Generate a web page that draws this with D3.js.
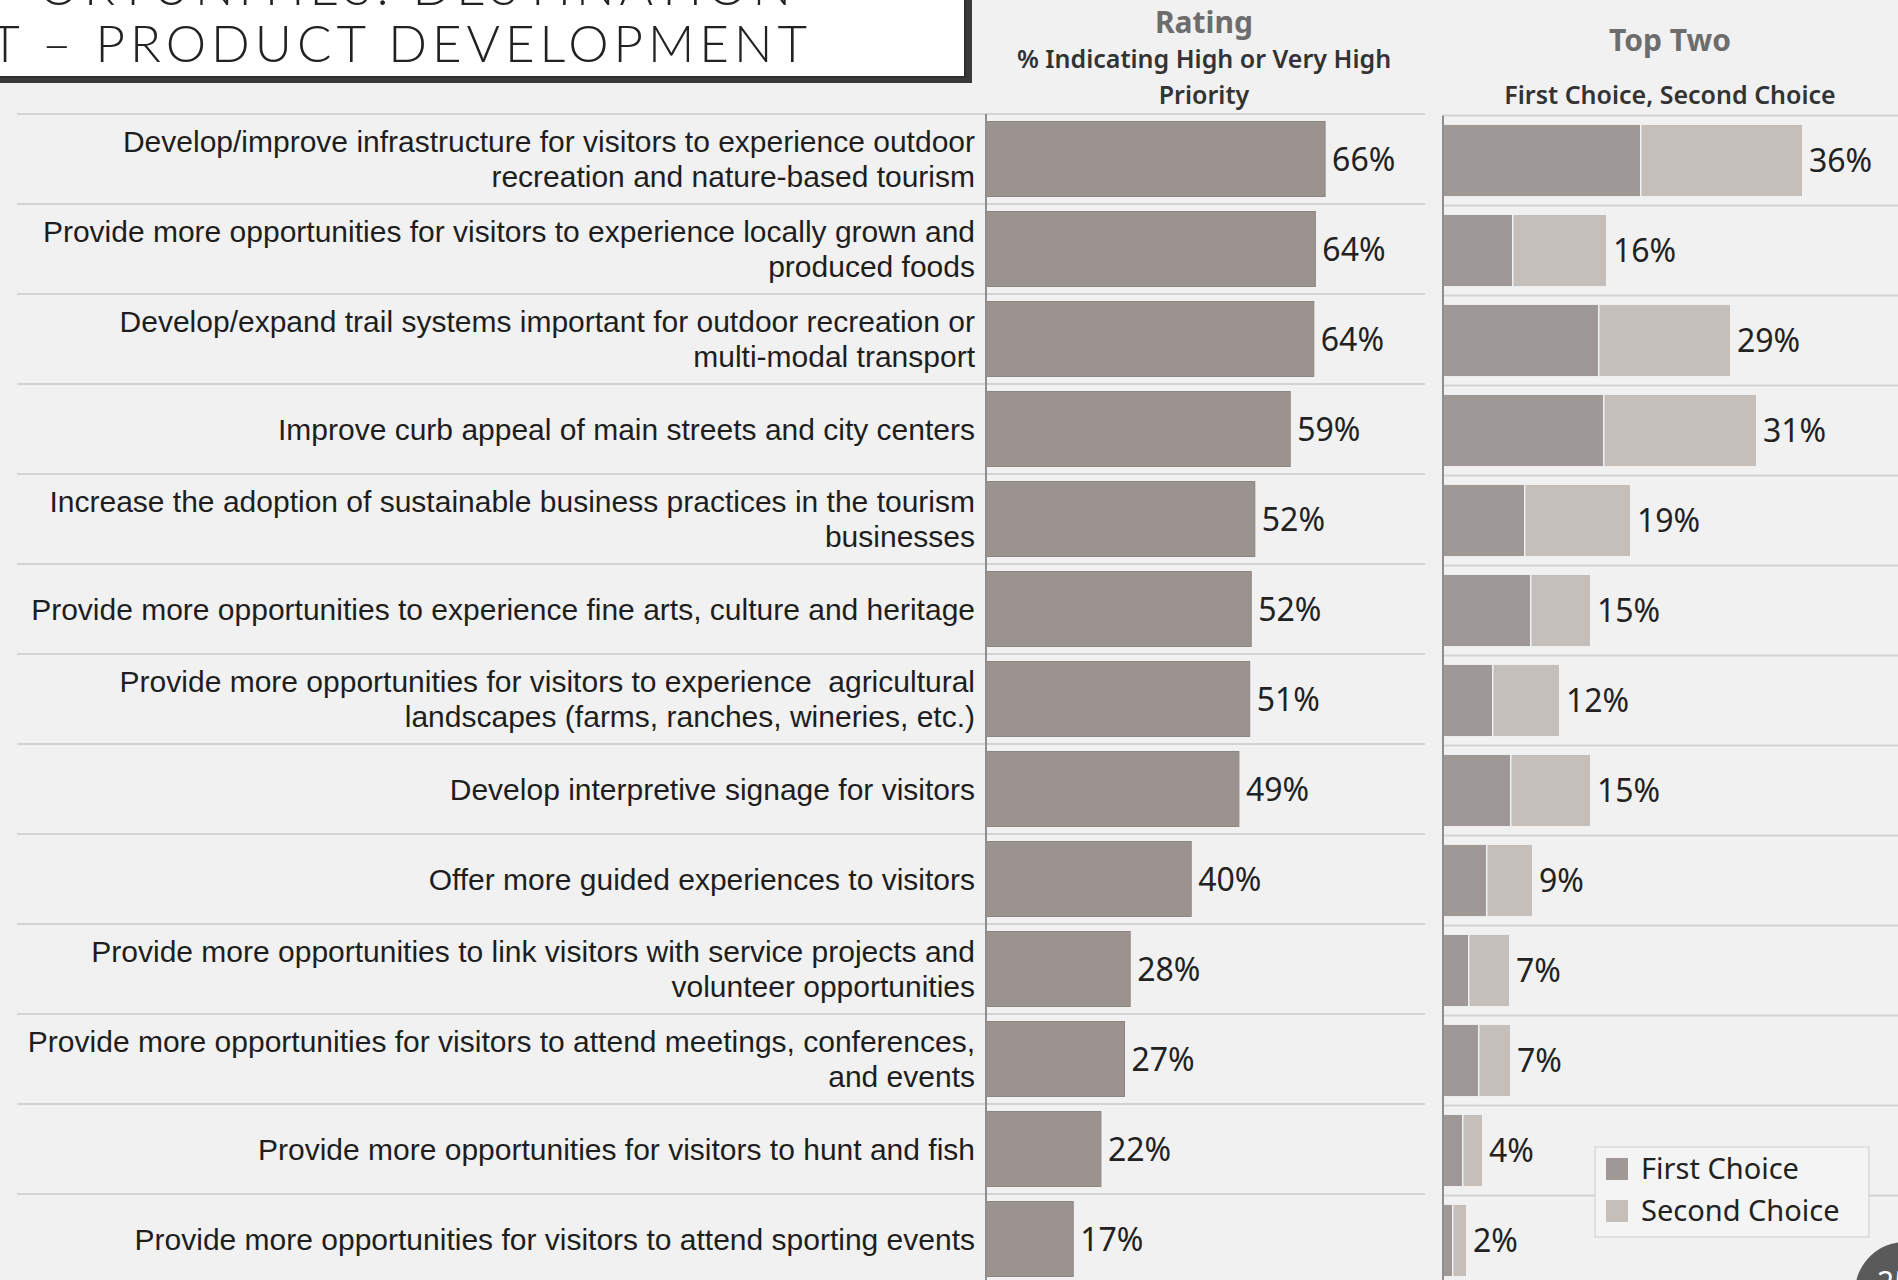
<!DOCTYPE html>
<html><head><meta charset="utf-8">
<script src="https://cdn.jsdelivr.net/npm/d3@7"></script>
<style>html,body{margin:0;padding:0;background:#f1f1f1;overflow:hidden}</style>
</head><body><svg id="c" width="1898" height="1280"></svg>
<script>
// ---------------- data ----------------
const categories = [
  "Develop/improve infrastructure for visitors to experience outdoor\nrecreation and nature-based tourism",
  "Provide more opportunities for visitors to experience locally grown and\nproduced foods",
  "Develop/expand trail systems important for outdoor recreation or\nmulti-modal transport",
  "Improve curb appeal of main streets and city centers",
  "Increase the adoption of sustainable business practices in the tourism\nbusinesses",
  "Provide more opportunities to experience fine arts, culture and heritage",
  "Provide more opportunities for visitors to experience\u00a0 agricultural\nlandscapes (farms, ranches, wineries, etc.)",
  "Develop interpretive signage for visitors",
  "Offer more guided experiences to visitors",
  "Provide more opportunities to link visitors with service projects and\nvolunteer opportunities",
  "Provide more opportunities for visitors to attend meetings, conferences,\nand events",
  "Provide more opportunities for visitors to hunt and fish",
  "Provide more opportunities for visitors to attend sporting events"
];
const ratingValues = [66.1, 64.2, 63.9, 59.3, 52.4, 51.7, 51.4, 49.3, 40.0, 28.1, 27.0, 22.4, 17.0];
const firstChoice  = [19.7, 6.9, 15.5, 16.0, 8.1, 8.7, 4.9, 6.7, 4.3, 2.5, 3.5, 1.9, 0.9];
const secondChoice = [16.2, 9.4, 13.2, 15.3, 10.6, 6.0, 6.7, 8.0, 4.6, 4.1, 3.2, 2.0, 1.4];
const seriesNames  = ["First Choice", "Second Choice"];
const titleLines   = ["ORTUNITIES: DESTINATION", "T \u2013 PRODUCT DEVELOPMENT"];
const ratingHeader = ["Rating", "% Indicating High or Very High", "Priority"];
const topTwoHeader = ["Top Two", "First Choice, Second Choice"];
const pageNumber   = "25";

// ---------------- layout ----------------
const W = 1898, H = 1280;
const BG = "#f1f1f1";
const C_RATING = "#9a9390", C_FIRST = "#9e9996", C_SECOND = "#c4bfbb";
const n = categories.length;
const ids = d3.range(n);
const svg = d3.select("#c");
svg.append("rect").attr("width", W).attr("height", H).attr("fill", BG);

const rowTop = 114, rowH = 90;
const yRow = d3.scaleBand().domain(ids).range([rowTop, rowTop + rowH * n]);
const yRating = yRow.copy().paddingInner(0.167).paddingOuter(0.0835);
const yTopRow = d3.scaleBand().domain(ids).range([rowTop + 1.5, rowTop + 1.5 + rowH * n]);
const yTop = yTopRow.copy().paddingInner(0.21).paddingOuter(0.105);
const xRating = d3.scaleLinear().domain([0, 100]).range([986, 986 + 513]);
const xTop = d3.scaleLinear().domain([0, 100]).range([1443, 1443 + 1000]);
const fmtPct = v => d3.format(".0f")(v) + "%";

// ---------------- title box ----------------
const tg = svg.append("g");
tg.append("rect").attr("x", -20).attr("y", -20).attr("width", 20 + 972).attr("height", 20 + 83).attr("fill", "#3a3a3a");
tg.append("rect").attr("x", -20).attr("y", -20).attr("width", 20 + 965).attr("height", 20 + 77).attr("fill", "#ffffff")
  .attr("stroke", "#2e2e2e").attr("stroke-width", 2);
tg.selectAll("text.title").data(titleLines).join("text").attr("class", "title")
  .attr("x", (d, i) => i === 0 ? 796 : 812)
  .attr("y", (d, i) => i === 0 ? 5 : 62)
  .attr("text-anchor", "end")
  .attr("font-family", "Lato, 'Open Sans', sans-serif")
  .attr("font-weight", 300)
  .attr("font-size", 51).attr("letter-spacing", 5).attr("fill", "#222")
  .text(d => d);

// ---------------- headers ----------------
const hFont = "'Noto Sans', 'Open Sans', sans-serif";
svg.append("text").attr("x", 1204).attr("y", 33).attr("text-anchor", "middle")
  .attr("font-family", hFont).attr("font-weight", 700).attr("font-size", 30).attr("fill", "#6d6d6d").text(ratingHeader[0]);
svg.append("text").attr("x", 1204).attr("y", 68).attr("text-anchor", "middle")
  .attr("font-family", hFont).attr("font-weight", 600).attr("font-size", 25).attr("fill", "#333").text(ratingHeader[1]);
svg.append("text").attr("x", 1204).attr("y", 104).attr("text-anchor", "middle")
  .attr("font-family", hFont).attr("font-weight", 600).attr("font-size", 25).attr("fill", "#333").text(ratingHeader[2]);
svg.append("text").attr("x", 1670).attr("y", 51).attr("text-anchor", "middle")
  .attr("font-family", hFont).attr("font-weight", 700).attr("font-size", 30).attr("fill", "#6d6d6d").text(topTwoHeader[0]);
svg.append("text").attr("x", 1670).attr("y", 104).attr("text-anchor", "middle")
  .attr("font-family", hFont).attr("font-weight", 600).attr("font-size", 25).attr("fill", "#333").text(topTwoHeader[1]);

// ---------------- row separators ----------------
svg.append("g").selectAll("line").data(ids).join("line")
  .attr("x1", 17).attr("x2", 1425)
  .attr("y1", d => yRow(d)).attr("y2", d => yRow(d))
  .attr("stroke", "#d3d3d3").attr("stroke-width", 2);
svg.append("g").selectAll("line").data(ids).join("line")
  .attr("x1", xTop(0)).attr("x2", W)
  .attr("y1", d => yTopRow(d)).attr("y2", d => yTopRow(d))
  .attr("stroke", "#d3d3d3").attr("stroke-width", 2);

// ---------------- category labels ----------------
const lab = svg.append("g").attr("font-family", "'Liberation Sans', Arial, sans-serif")
  .attr("font-size", 30).attr("fill", "#1e1e1e").attr("text-anchor", "end");
ids.forEach(i => {
  const lines = categories[i].split("\n");
  const cy = yRow(i) + yRow.bandwidth() / 2;
  const t = lab.append("text").attr("xml:space", "preserve");
  lines.forEach((ln, k) => {
    t.append("tspan").attr("x", 975)
      .attr("y", cy + (k - (lines.length - 1) / 2) * 35)
      .attr("dy", "0.35em").text(ln);
  });
});

// ---------------- rating bars ----------------
const vFont = "'Noto Sans', 'Open Sans', sans-serif";
svg.append("g").selectAll("rect").data(ids).join("rect")
  .attr("x", xRating(0)).attr("y", d => yRating(d))
  .attr("width", d => xRating(ratingValues[d]) - xRating(0))
  .attr("height", yRating.bandwidth())
  .attr("fill", C_RATING).attr("stroke", "#8c8683").attr("stroke-width", 1);
svg.append("g").selectAll("text").data(ids).join("text")
  .attr("x", d => xRating(ratingValues[d]) + 7)
  .attr("y", d => yRow(d) + yRow.bandwidth() / 2).attr("dy", "0.36em")
  .attr("font-family", vFont).attr("font-size", 32).attr("fill", "#222")
  .text(d => fmtPct(ratingValues[d]));
svg.append("line").attr("x1", xRating(0)).attr("x2", xRating(0)).attr("y1", rowTop).attr("y2", H)
  .attr("stroke", "#8e8e8e").attr("stroke-width", 2);

// ---------------- top two stacked bars ----------------
const stackData = ids.map(i => ({i, "First Choice": firstChoice[i], "Second Choice": secondChoice[i]}));
const stacked = d3.stack().keys(seriesNames)(stackData);
const colors = d3.scaleOrdinal().domain(seriesNames).range([C_FIRST, C_SECOND]);
svg.append("g").selectAll("g").data(stacked).join("g").attr("fill", d => colors(d.key))
  .selectAll("rect").data(d => d).join("rect")
  .attr("x", d => xTop(d[0]) + (d[0] > 0 ? 1.5 : 0))
  .attr("y", d => yTop(d.data.i))
  .attr("width", d => Math.max(0.5, xTop(d[1]) - xTop(d[0]) - (d[0] > 0 ? 1.5 : 0)))
  .attr("height", yTop.bandwidth());
svg.append("g").selectAll("text").data(ids).join("text")
  .attr("x", d => xTop(firstChoice[d] + secondChoice[d]) + 7)
  .attr("y", d => yTopRow(d) + yTopRow.bandwidth() / 2).attr("dy", "0.36em")
  .attr("font-family", vFont).attr("font-size", 32).attr("fill", "#222")
  .text(d => fmtPct(firstChoice[d] + secondChoice[d]));
svg.append("line").attr("x1", xTop(0)).attr("x2", xTop(0)).attr("y1", rowTop + 1.5).attr("y2", H)
  .attr("stroke", "#8e8e8e").attr("stroke-width", 2);

// ---------------- legend ----------------
const lg = svg.append("g").attr("transform", "translate(1595,1147)");
lg.append("rect").attr("width", 274).attr("height", 90).attr("fill", "#f4f4f4")
  .attr("stroke", "#d9d9d9").attr("stroke-width", 1.5);
const li = lg.selectAll("g").data(seriesNames).join("g")
  .attr("transform", (d, i) => `translate(11,${11 + i * 42})`);
li.append("rect").attr("width", 22).attr("height", 22).attr("fill", d => colors(d));
li.append("text").attr("x", 35).attr("y", 11).attr("dy", "0.36em")
  .attr("font-family", vFont).attr("font-size", 29).attr("fill", "#222").text(d => d);

// ---------------- page marker ----------------
svg.append("circle").attr("cx", 1905).attr("cy", 1292).attr("r", 50).attr("fill", "#5a5a5a");
svg.append("text").attr("x", 1877).attr("y", 1293).attr("font-family", vFont)
  .attr("font-size", 30).attr("fill", "#fff").text(pageNumber);
</script></body></html>
